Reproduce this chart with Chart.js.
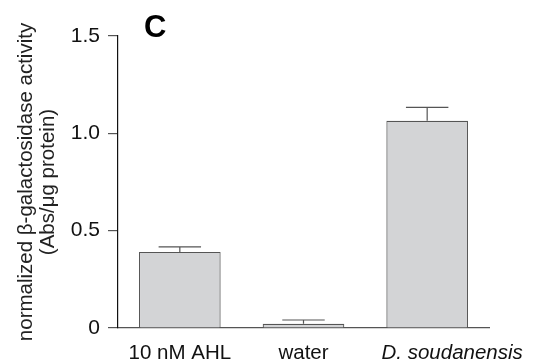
<!DOCTYPE html>
<html>
<head>
<meta charset="utf-8">
<script src="https://cdn.jsdelivr.net/npm/chart.js@4.4.1/dist/chart.umd.min.js"></script>
<style>
    html, body { margin: 0; padding: 0; background: #fff; }
    #wrap { width: 539px; height: 364px; position: relative; }
</style>
</head>
<body>
<div id="wrap"><canvas id="chart"></canvas></div>
<script>
// data
const categories = ['10 nM AHL', 'water', 'D. soudanensis'];
const means = [0.391, 0.022, 1.065];
const upperErr = [0.417, 0.041, 1.133];
const yTicks = [0, 0.5, 1.0, 1.5];

const FONT = '"Liberation Sans", Arial, Helvetica, sans-serif';
// the last label sits a little right of its bar in the original
const labelShift = [0, 0, 25];

// upper error bars with caps, placed through the y scale
const errorBars = {
    id: 'errorBars',
    afterDatasetsDraw(chart) {
        const ctx = chart.ctx;
        const yScale = chart.scales.y;
        const meta = chart.getDatasetMeta(0);
        ctx.save();
        ctx.strokeStyle = '#555';
        ctx.lineWidth = 1.2;
        meta.data.forEach((bar, i) => {
            const yTop = yScale.getPixelForValue(upperErr[i]);
            const yBar = yScale.getPixelForValue(means[i]);
            const cap = bar.width * 0.26;
            ctx.beginPath();
            ctx.moveTo(bar.x, yBar);
            ctx.lineTo(bar.x, yTop);
            ctx.moveTo(bar.x - cap, yTop);
            ctx.lineTo(bar.x + cap, yTop);
            ctx.stroke();
        });
        ctx.restore();
    }
};

// category labels under the axis + panel letter
const labelsAndLetter = {
    id: 'labelsAndLetter',
    afterDraw(chart) {
        const ctx = chart.ctx;
        const xScale = chart.scales.x;
        ctx.save();
        ctx.fillStyle = '#111';
        ctx.textAlign = 'center';
        ctx.textBaseline = 'alphabetic';
        categories.forEach((name, i) => {
            ctx.font = (i === 2 ? 'italic ' : '') + '20.5px ' + FONT;
            ctx.fillText(name, xScale.getPixelForValue(i) + labelShift[i], xScale.top + 31);
        });
        ctx.fillStyle = '#000';
        ctx.font = 'bold 31px ' + FONT;
        ctx.textAlign = 'left';
        ctx.fillText('C', 144, 37);
        ctx.restore();
    }
};

new Chart(document.getElementById('chart'), {
    type: 'bar',
    data: {
        labels: categories,
        datasets: [{
            data: means,
            backgroundColor: '#d3d4d6',
            borderColor: '#555',
            borderWidth: 1.2,
            barPercentage: 0.66,
            categoryPercentage: 1.0
        }]
    },
    options: {
        responsive: true,
        maintainAspectRatio: false,
        animation: false,
        layout: { padding: { top: 36, right: 50, left: 0, bottom: 0 } },
        plugins: {
            legend: { display: false },
            tooltip: { enabled: false }
        },
        scales: {
            x: {
                grid: { display: false },
                border: { display: true, color: '#555', width: 1.2 },
                ticks: { display: false },
                afterFit: s => { s.height = 36; }
            },
            y: {
                min: 0,
                max: 1.5,
                afterBuildTicks: s => { s.ticks = yTicks.map(v => ({ value: v })); },
                grid: {
                    drawOnChartArea: false,
                    drawTicks: true,
                    tickLength: 10,
                    color: '#555',
                    lineWidth: 1.2
                },
                border: { display: true, color: '#111', width: 1.2 },
                ticks: {
                    color: '#111',
                    padding: 8,
                    font: { family: FONT, size: 21 },
                    callback: v => v === 0 ? '0' : v.toFixed(1)
                },
                title: {
                    display: true,
                    text: ['normalized β-galactosidase activity', '(Abs/μg protein)'],
                    color: '#222',
                    font: { family: FONT, size: 20.5, lineHeight: 1.05 },
                    padding: { top: 16, bottom: 0 }
                },
                afterFit: s => { s.width = 118; }
            }
        }
    },
    plugins: [errorBars, labelsAndLetter]
});
</script>
</body>
</html>
